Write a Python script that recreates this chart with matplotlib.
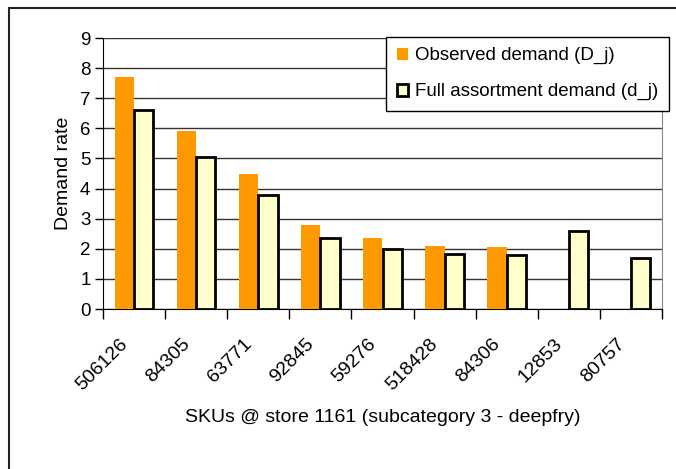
import matplotlib.pyplot as plt
import matplotlib.transforms as mtransforms
import numpy as np
from matplotlib.patches import Rectangle

plt.rcParams['font.family'] = ['Liberation Sans', 'DejaVu Sans']

# SKU 라벨과 수요 값
skus = ['506126', '84305', '63771', '92845', '59276', '518428', '84306', '12853', '80757']
observed = [7.7, 5.9, 4.5, 2.78, 2.37, 2.1, 2.05, 0, 0]
full_assort = [6.6, 5.05, 3.8, 2.35, 2.0, 1.83, 1.78, 2.6, 1.68]

fig = plt.figure(figsize=(6.76, 4.69), dpi=100)
ax = fig.add_axes([103 / 676, 1 - 309 / 469, 559 / 676, 271 / 469])

x = np.arange(len(skus))
w = 0.31
ax.bar(x + 0.5 - w, observed, width=w, align='edge', color='#FF9900',
       edgecolor='none', label='Observed demand (D_j)', zorder=3)
ax.bar(x + 0.5, full_assort, width=w, align='edge', color='#FFFFCC',
       edgecolor='black', linewidth=2, label='Full assortment demand (d_j)', zorder=3)

ax.set_xlim(0, len(skus))
ax.set_ylim(0, 9)
ax.set_yticks(range(0, 10))
ax.tick_params(axis='y', labelsize=13.5, length=6, width=1, pad=3)
ax.yaxis.grid(True, color='#333333', linewidth=1, zorder=0)

# x축 눈금은 카테고리 경계에
ax.set_xticks(np.arange(0, len(skus) + 1), minor=False)
ax.set_xticklabels([])
ax.tick_params(axis='x', length=7, width=1, direction='out')
ax.set_xticks(x + 0.5, minor=True)
ax.set_xticklabels(skus, minor=True, rotation=45, ha='right', va='top',
                   rotation_mode='anchor', fontsize=14)
ax.tick_params(axis='x', which='minor', length=0, pad=19)
shift = mtransforms.ScaledTranslation(-15 / 100, 0, fig.dpi_scale_trans)
for lbl in ax.get_xticklabels(minor=True):
    lbl.set_transform(lbl.get_transform() + shift)

ax.spines['top'].set_visible(False)
ax.spines['right'].set_color('#888888')
ax.spines['left'].set_color('black')
ax.spines['bottom'].set_color('black')

ax.set_ylabel('Demand rate', fontsize=14, labelpad=6)
ax.set_xlabel('SKUs @ store 1161 (subcategory 3 - deepfry)', fontsize=14, labelpad=11)

leg = ax.legend(loc='upper right', bbox_to_anchor=(669 / 676, 1 - 37 / 469),
                bbox_transform=fig.transFigure, fontsize=13.5, frameon=True,
                fancybox=False, edgecolor='black', framealpha=1,
                handlelength=0.6, handleheight=0.6, handletextpad=0.4,
                labelspacing=1.0, borderpad=0.55, borderaxespad=0)
leg.get_frame().set_linewidth(1)

# 바깥 테두리
fig.patches.append(Rectangle((9 / 676, -0.1), 2, 1.1 - 8 / 469, transform=fig.transFigure,
                             fill=False, edgecolor='#222222', linewidth=1.5))

fig.savefig('out.png', dpi=100)
